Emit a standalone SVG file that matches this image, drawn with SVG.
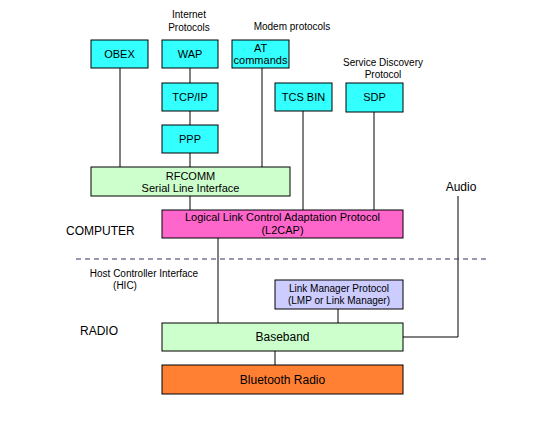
<svg xmlns="http://www.w3.org/2000/svg" width="556" height="423" viewBox="0 0 556 423">
<style>
.box{stroke:#000;stroke-width:1}
.cy{fill:#33FFFF}
.gr{fill:#CCFFCC}
.pk{fill:#FF66CC}
.lv{fill:#CCCCFF}
.or{fill:#FF7F33}
text{font-family:"Liberation Sans",Arial,sans-serif;fill:#000}
.t{font-size:11px;text-anchor:middle}
.s{font-size:10px;text-anchor:middle}
.l{font-size:12px}
#connectors line,#connectors polyline{stroke:#000;stroke-width:1;fill:none}
</style>
<rect width="556" height="423" fill="#fff"/>
<g id="connectors">
<line x1="120" y1="68" x2="120" y2="167"/>
<line x1="190" y1="68" x2="190" y2="83"/>
<line x1="190" y1="111" x2="190" y2="125"/>
<line x1="190" y1="153" x2="190" y2="167"/>
<line x1="262" y1="68" x2="262" y2="167"/>
<line x1="303" y1="111" x2="303" y2="210"/>
<line x1="374" y1="112" x2="374" y2="210"/>
<line x1="190" y1="196" x2="190" y2="210"/>
<line x1="218" y1="238" x2="218" y2="323"/>
<line x1="338" y1="309" x2="338" y2="323"/>
<line x1="275" y1="351" x2="275" y2="365"/>
<polyline points="403,337 458,337 458,196"/>
<line x1="76" y1="259" x2="488" y2="259" style="stroke:#333366;stroke-dasharray:5,4"/>
</g>
<g id="obex"><rect class="box cy" x="91" y="40" width="57" height="28"/><text class="t" x="119.5" y="58">OBEX</text></g>
<g id="wap"><rect class="box cy" x="162" y="40" width="56" height="28"/><text class="t" x="190" y="58">WAP</text></g>
<g id="at"><rect class="box cy" x="232" y="40" width="57" height="28"/><text class="t" x="260.5" y="52">AT</text><text class="t" x="260.5" y="64">commands</text></g>
<g id="tcpip"><rect class="box cy" x="162" y="83" width="56" height="28"/><text class="t" x="190" y="101">TCP/IP</text></g>
<g id="tcsbin"><rect class="box cy" x="275" y="83" width="57" height="28"/><text class="t" x="303.5" y="101">TCS BIN</text></g>
<g id="sdp"><rect class="box cy" x="346" y="83" width="57" height="29"/><text class="t" x="374.5" y="101">SDP</text></g>
<g id="ppp"><rect class="box cy" x="162" y="125" width="56" height="28"/><text class="t" x="190" y="143">PPP</text></g>
<g id="rfcomm"><rect class="box gr" x="91" y="167" width="199" height="29"/><text class="t" x="190.5" y="180">RFCOMM</text><text class="t" x="190.5" y="192">Serial Line Interface</text></g>
<g id="l2cap"><rect class="box pk" x="162" y="210" width="241" height="28"/><text class="t" x="282.5" y="221">Logical Link Control Adaptation Protocol</text><text class="t" x="282.5" y="234">(L2CAP)</text></g>
<g id="lmp"><rect class="box lv" x="275" y="280" width="128" height="29"/><text class="s" x="339" y="292">Link Manager Protocol</text><text class="s" x="339" y="304">(LMP or Link Manager)</text></g>
<g id="baseband"><rect class="box gr" x="162" y="323" width="241" height="28"/><text class="l" x="282.5" y="341" text-anchor="middle">Baseband</text></g>
<g id="radio"><rect class="box or" x="162" y="365" width="241" height="29"/><text class="l" x="282.5" y="384" text-anchor="middle">Bluetooth Radio</text></g>
<g id="labels">
<text class="s" x="189" y="18">Internet</text>
<text class="s" x="189" y="31">Protocols</text>
<text class="s" x="292" y="30">Modem protocols</text>
<text class="s" x="383" y="66">Service Discovery</text>
<text class="s" x="383" y="78">Protocol</text>
<text class="l" x="461" y="191" text-anchor="middle">Audio</text>
<text class="l" x="66" y="235">COMPUTER</text>
<text class="s" x="144" y="277">Host Controller Interface</text>
<text class="s" x="125" y="289">(HIC)</text>
<text class="l" x="80" y="335">RADIO</text>
</g>
</svg>
